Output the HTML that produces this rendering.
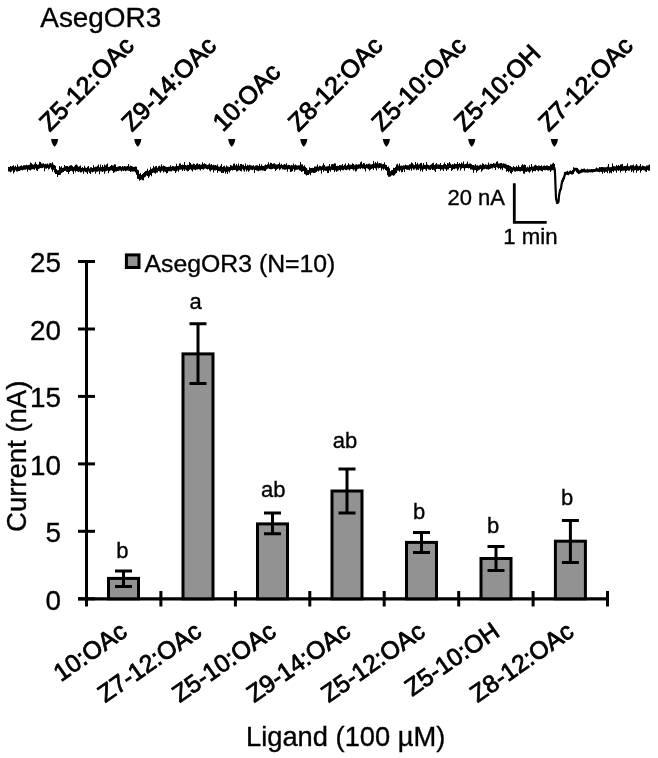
<!DOCTYPE html>
<html><head><meta charset="utf-8"><style>
html,body{margin:0;padding:0;background:#fff;}
svg{display:block;will-change:transform;}
text{font-family:"Liberation Sans", Arial, sans-serif;fill:#000;stroke:#000;stroke-width:0.35px;}
.b{font-weight:bold;}
.lt{stroke:#000;stroke-width:0.9px;}
.lb{stroke:#000;stroke-width:0.8px;}
</style></head><body>
<svg width="658" height="758" viewBox="0 0 658 758">
<text x="40.3" y="26.5" font-size="27.9" >AsegOR3</text>
<text transform="translate(49.8,132.6) rotate(-45)" font-size="25" class="lt">Z5-12:OAc</text>
<path d="M51.1,139.1 L58.1,139.1 Q57.8,144 54.6,146.8 Q51.4,144 51.1,139.1 Z" fill="#000"/>
<text transform="translate(132.0,132.6) rotate(-45)" font-size="25" class="lt">Z9-14:OAc</text>
<path d="M134.3,139.1 L141.3,139.1 Q141.0,144 137.8,146.8 Q134.6,144 134.3,139.1 Z" fill="#000"/>
<text transform="translate(222.9,132.6) rotate(-45)" font-size="25" class="lt">10:OAc</text>
<path d="M228.2,139.1 L235.2,139.1 Q234.9,144 231.7,146.8 Q228.5,144 228.2,139.1 Z" fill="#000"/>
<text transform="translate(298.5,132.6) rotate(-45)" font-size="25" class="lt">Z8-12:OAc</text>
<path d="M300.3,139.1 L307.3,139.1 Q307.0,144 303.8,146.8 Q300.6,144 300.3,139.1 Z" fill="#000"/>
<text transform="translate(382.1,132.6) rotate(-45)" font-size="25" class="lt">Z5-10:OAc</text>
<path d="M382.9,139.1 L389.9,139.1 Q389.6,144 386.4,146.8 Q383.2,144 382.9,139.1 Z" fill="#000"/>
<text transform="translate(464.4,132.6) rotate(-45)" font-size="25" class="lt">Z5-10:OH</text>
<path d="M468.2,139.1 L475.2,139.1 Q474.9,144 471.7,146.8 Q468.5,144 468.2,139.1 Z" fill="#000"/>
<text transform="translate(548.8,132.6) rotate(-45)" font-size="25" class="lt">Z7-12:OAc</text>
<path d="M550.9,139.1 L557.9,139.1 Q557.6,144 554.4,146.8 Q551.2,144 550.9,139.1 Z" fill="#000"/>
<path d="M8,166.9L9,166.9L9,167.1L10,167.1L10,166.1L11,166.1L11,166.4L12,166.4L12,166.0L13,166.0L13,165.2L14,165.2L14,166.8L15,166.8L15,165.8L16,165.8L16,167.1L17,167.1L17,164.5L18,164.5L18,166.6L19,166.6L19,166.5L20,166.5L20,165.7L21,165.7L21,165.4L22,165.4L22,166.0L23,166.0L23,165.2L24,165.2L24,165.3L25,165.3L25,165.2L26,165.2L26,164.8L27,164.8L27,165.3L28,165.3L28,165.1L29,165.1L29,164.7L30,164.7L30,162.5L31,162.5L31,163.2L32,163.2L32,164.2L33,164.2L33,164.8L34,164.8L34,163.8L35,163.8L35,162.0L36,162.0L36,164.1L37,164.1L37,164.8L38,164.8L38,164.4L39,164.4L39,161.7L40,161.7L40,161.9L41,161.9L41,163.4L42,163.4L42,163.5L43,163.5L43,163.2L44,163.2L44,164.2L45,164.2L45,163.7L46,163.7L46,164.3L47,164.3L47,163.6L48,163.6L48,164.4L49,164.4L49,163.3L50,163.3L50,163.1L51,163.1L51,163.4L52,163.4L52,162.3L53,162.3L53,164.5L54,164.5L54,165.0L55,165.0L55,166.0L56,166.0L56,169.2L57,169.2L57,170.2L58,170.2L58,169.9L59,169.9L59,166.1L60,166.1L60,167.2L61,167.2L61,166.2L62,166.2L62,167.9L63,167.9L63,167.4L64,167.4L64,165.0L65,165.0L65,166.3L66,166.3L66,166.0L67,166.0L67,165.9L68,165.9L68,166.8L69,166.8L69,165.8L70,165.8L70,165.2L71,165.2L71,165.2L72,165.2L72,166.1L73,166.1L73,166.9L74,166.9L74,166.2L75,166.2L75,164.8L76,164.8L76,164.5L77,164.5L77,165.6L78,165.6L78,166.7L79,166.7L79,166.2L80,166.2L80,165.5L81,165.5L81,167.8L82,167.8L82,167.1L83,167.1L83,168.0L84,168.0L84,165.8L85,165.8L85,167.4L86,167.4L86,168.1L87,168.1L87,166.7L88,166.7L88,165.9L89,165.9L89,168.4L90,168.4L90,167.3L91,167.3L91,167.3L92,167.3L92,168.0L93,168.0L93,165.3L94,165.3L94,167.2L95,167.2L95,166.8L96,166.8L96,166.7L97,166.7L97,165.7L98,165.7L98,164.4L99,164.4L99,167.2L100,167.2L100,164.5L101,164.5L101,166.9L102,166.9L102,165.1L103,165.1L103,166.8L104,166.8L104,164.6L105,164.6L105,165.5L106,165.5L106,164.5L107,164.5L107,163.4L108,163.4L108,167.0L109,167.0L109,166.7L110,166.7L110,165.9L111,165.9L111,165.1L112,165.1L112,165.4L113,165.4L113,165.5L114,165.5L114,164.2L115,164.2L115,164.6L116,164.6L116,167.0L117,167.0L117,166.7L118,166.7L118,166.4L119,166.4L119,166.0L120,166.0L120,165.9L121,165.9L121,167.1L122,167.1L122,166.1L123,166.1L123,166.7L124,166.7L124,166.0L125,166.0L125,166.2L126,166.2L126,166.4L127,166.4L127,165.9L128,165.9L128,164.0L129,164.0L129,166.4L130,166.4L130,165.5L131,165.5L131,165.9L132,165.9L132,166.5L133,166.5L133,167.0L134,167.0L134,166.8L135,166.8L135,166.5L136,166.5L136,166.8L137,166.8L137,169.4L138,169.4L138,170.3L139,170.3L139,174.0L140,174.0L140,173.0L141,173.0L141,175.0L142,175.0L142,174.0L143,174.0L143,172.9L144,172.9L144,171.9L145,171.9L145,170.9L146,170.9L146,170.8L147,170.8L147,168.8L148,168.8L148,170.8L149,170.8L149,169.9L150,169.9L150,167.3L151,167.3L151,169.1L152,169.1L152,168.2L153,168.2L153,165.8L154,165.8L154,167.3L155,167.3L155,166.3L156,166.3L156,165.9L157,165.9L157,167.8L158,167.8L158,166.2L159,166.2L159,165.7L160,165.7L160,166.6L161,166.6L161,164.3L162,164.3L162,166.3L163,166.3L163,165.5L164,165.5L164,166.0L165,166.0L165,166.6L166,166.6L166,166.9L167,166.9L167,167.1L168,167.1L168,166.8L169,166.8L169,166.8L170,166.8L170,165.2L171,165.2L171,166.8L172,166.8L172,165.9L173,165.9L173,166.2L174,166.2L174,166.4L175,166.4L175,166.2L176,166.2L176,163.7L177,163.7L177,165.9L178,165.9L178,165.8L179,165.8L179,163.6L180,163.6L180,163.6L181,163.6L181,164.9L182,164.9L182,164.4L183,164.4L183,165.1L184,165.1L184,162.1L185,162.1L185,165.0L186,165.0L186,165.4L187,165.4L187,164.7L188,164.7L188,164.9L189,164.9L189,162.1L190,162.1L190,162.9L191,162.9L191,164.6L192,164.6L192,164.4L193,164.4L193,163.5L194,163.5L194,163.9L195,163.9L195,164.9L196,164.9L196,163.8L197,163.8L197,163.3L198,163.3L198,164.5L199,164.5L199,164.1L200,164.1L200,164.8L201,164.8L201,164.5L202,164.5L202,162.2L203,162.2L203,164.0L204,164.0L204,163.2L205,163.2L205,164.1L206,164.1L206,164.5L207,164.5L207,165.1L208,165.1L208,164.5L209,164.5L209,163.3L210,163.3L210,164.7L211,164.7L211,164.0L212,164.0L212,165.2L213,165.2L213,164.7L214,164.7L214,165.3L215,165.3L215,164.9L216,164.9L216,165.4L217,165.4L217,164.6L218,164.6L218,166.5L219,166.5L219,166.7L220,166.7L220,165.7L221,165.7L221,164.0L222,164.0L222,166.9L223,166.9L223,166.3L224,166.3L224,165.7L225,165.7L225,167.3L226,167.3L226,165.5L227,165.5L227,166.4L228,166.4L228,166.8L229,166.8L229,166.9L230,166.9L230,165.0L231,165.0L231,165.6L232,165.6L232,165.9L233,165.9L233,163.7L234,163.7L234,163.5L235,163.5L235,165.6L236,165.6L236,164.0L237,164.0L237,165.5L238,165.5L238,163.6L239,163.6L239,165.8L240,165.8L240,164.1L241,164.1L241,164.0L242,164.0L242,164.8L243,164.8L243,164.8L244,164.8L244,166.1L245,166.1L245,163.5L246,163.5L246,166.0L247,166.0L247,164.7L248,164.7L248,165.5L249,165.5L249,164.8L250,164.8L250,165.2L251,165.2L251,165.4L252,165.4L252,165.8L253,165.8L253,165.2L254,165.2L254,166.3L255,166.3L255,165.5L256,165.5L256,165.3L257,165.3L257,165.2L258,165.2L258,166.0L259,166.0L259,163.8L260,163.8L260,165.9L261,165.9L261,164.3L262,164.3L262,165.8L263,165.8L263,165.9L264,165.9L264,165.4L265,165.4L265,164.6L266,164.6L266,164.9L267,164.9L267,164.3L268,164.3L268,162.2L269,162.2L269,164.5L270,164.5L270,162.7L271,162.7L271,163.0L272,163.0L272,164.1L273,164.1L273,163.5L274,163.5L274,163.2L275,163.2L275,164.3L276,164.3L276,164.5L277,164.5L277,164.6L278,164.6L278,164.1L279,164.1L279,162.6L280,162.6L280,164.8L281,164.8L281,163.7L282,163.7L282,165.0L283,165.0L283,164.8L284,164.8L284,164.0L285,164.0L285,164.5L286,164.5L286,163.2L287,163.2L287,165.3L288,165.3L288,164.7L289,164.7L289,165.0L290,165.0L290,165.5L291,165.5L291,164.9L292,164.9L292,165.6L293,165.6L293,163.4L294,163.4L294,165.2L295,165.2L295,164.6L296,164.6L296,165.3L297,165.3L297,165.4L298,165.4L298,165.2L299,165.2L299,165.3L300,165.3L300,162.1L301,162.1L301,164.6L302,164.6L302,164.3L303,164.3L303,166.3L304,166.3L304,165.3L305,165.3L305,166.9L306,166.9L306,168.0L307,168.0L307,169.7L308,169.7L308,170.0L309,170.0L309,167.2L310,167.2L310,167.9L311,167.9L311,167.9L312,167.9L312,167.8L313,167.8L313,167.9L314,167.9L314,166.6L315,166.6L315,166.4L316,166.4L316,166.4L317,166.4L317,164.5L318,164.5L318,166.8L319,166.8L319,165.7L320,165.7L320,165.9L321,165.9L321,166.6L322,166.6L322,165.6L323,165.6L323,163.2L324,163.2L324,164.9L325,164.9L325,166.4L326,166.4L326,166.5L327,166.5L327,166.3L328,166.3L328,166.0L329,166.0L329,164.0L330,164.0L330,166.6L331,166.6L331,164.2L332,164.2L332,164.0L333,164.0L333,164.3L334,164.3L334,163.2L335,163.2L335,163.5L336,163.5L336,165.9L337,165.9L337,165.7L338,165.7L338,166.1L339,166.1L339,164.9L340,164.9L340,165.3L341,165.3L341,165.3L342,165.3L342,164.1L343,164.1L343,165.8L344,165.8L344,164.8L345,164.8L345,163.4L346,163.4L346,165.7L347,165.7L347,165.0L348,165.0L348,163.3L349,163.3L349,164.4L350,164.4L350,164.8L351,164.8L351,164.7L352,164.7L352,163.3L353,163.3L353,163.9L354,163.9L354,165.2L355,165.2L355,164.5L356,164.5L356,164.2L357,164.2L357,164.7L358,164.7L358,164.3L359,164.3L359,164.2L360,164.2L360,162.2L361,162.2L361,161.4L362,161.4L362,164.3L363,164.3L363,163.1L364,163.1L364,163.2L365,163.2L365,164.8L366,164.8L366,163.9L367,163.9L367,164.2L368,164.2L368,163.7L369,163.7L369,163.6L370,163.6L370,164.6L371,164.6L371,164.6L372,164.6L372,164.0L373,164.0L373,161.1L374,161.1L374,163.5L375,163.5L375,162.1L376,162.1L376,163.2L377,163.2L377,161.5L378,161.5L378,163.4L379,163.4L379,162.9L380,162.9L380,163.2L381,163.2L381,163.4L382,163.4L382,164.2L383,164.2L383,163.9L384,163.9L384,162.3L385,162.3L385,164.7L386,164.7L386,165.1L387,165.1L387,167.1L388,167.1L388,166.4L389,166.4L389,168.2L390,168.2L390,171.2L391,171.2L391,170.3L392,170.3L392,170.0L393,170.0L393,167.7L394,167.7L394,168.0L395,168.0L395,167.1L396,167.1L396,164.5L397,164.5L397,163.7L398,163.7L398,165.6L399,165.6L399,163.4L400,163.4L400,165.7L401,165.7L401,165.4L402,165.4L402,165.8L403,165.8L403,165.3L404,165.3L404,165.5L405,165.5L405,164.6L406,164.6L406,165.2L407,165.2L407,165.2L408,165.2L408,165.2L409,165.2L409,164.2L410,164.2L410,164.2L411,164.2L411,162.5L412,162.5L412,162.9L413,162.9L413,164.5L414,164.5L414,165.2L415,165.2L415,162.0L416,162.0L416,164.3L417,164.3L417,162.7L418,162.7L418,164.4L419,164.4L419,164.2L420,164.2L420,163.1L421,163.1L421,163.0L422,163.0L422,165.2L423,165.2L423,163.0L424,163.0L424,164.7L425,164.7L425,165.1L426,165.1L426,161.9L427,161.9L427,164.4L428,164.4L428,165.1L429,165.1L429,165.4L430,165.4L430,164.7L431,164.7L431,164.3L432,164.3L432,163.3L433,163.3L433,162.7L434,162.7L434,164.9L435,164.9L435,164.2L436,164.2L436,163.1L437,163.1L437,164.4L438,164.4L438,164.5L439,164.5L439,164.4L440,164.4L440,163.1L441,163.1L441,164.9L442,164.9L442,164.9L443,164.9L443,164.2L444,164.2L444,162.6L445,162.6L445,164.1L446,164.1L446,164.9L447,164.9L447,163.0L448,163.0L448,163.6L449,163.6L449,161.9L450,161.9L450,163.5L451,163.5L451,164.8L452,164.8L452,164.0L453,164.0L453,164.4L454,164.4L454,163.2L455,163.2L455,163.9L456,163.9L456,163.9L457,163.9L457,161.9L458,161.9L458,164.0L459,164.0L459,163.1L460,163.1L460,164.1L461,164.1L461,162.5L462,162.5L462,163.4L463,163.4L463,161.4L464,161.4L464,164.3L465,164.3L465,163.9L466,163.9L466,163.6L467,163.6L467,161.5L468,161.5L468,164.1L469,164.1L469,163.5L470,163.5L470,163.6L471,163.6L471,164.3L472,164.3L472,165.1L473,165.1L473,164.9L474,164.9L474,165.6L475,165.6L475,164.1L476,164.1L476,165.5L477,165.5L477,165.2L478,165.2L478,165.7L479,165.7L479,165.2L480,165.2L480,164.4L481,164.4L481,165.2L482,165.2L482,163.2L483,163.2L483,163.7L484,163.7L484,164.8L485,164.8L485,164.2L486,164.2L486,164.8L487,164.8L487,164.7L488,164.7L488,162.4L489,162.4L489,164.4L490,164.4L490,163.8L491,163.8L491,163.7L492,163.7L492,164.1L493,164.1L493,163.1L494,163.1L494,163.4L495,163.4L495,163.5L496,163.5L496,161.8L497,161.8L497,161.3L498,161.3L498,163.6L499,163.6L499,163.5L500,163.5L500,162.9L501,162.9L501,163.1L502,163.1L502,163.7L503,163.7L503,163.3L504,163.3L504,163.8L505,163.8L505,163.7L506,163.7L506,164.4L507,164.4L507,164.9L508,164.9L508,164.9L509,164.9L509,165.7L510,165.7L510,165.9L511,165.9L511,167.0L512,167.0L512,167.4L513,167.4L513,166.1L514,166.1L514,167.0L515,167.0L515,167.2L516,167.2L516,166.1L517,166.1L517,166.9L518,166.9L518,165.1L519,165.1L519,166.7L520,166.7L520,167.0L521,167.0L521,165.6L522,165.6L522,164.2L523,164.2L523,165.1L524,165.1L524,164.4L525,164.4L525,165.0L526,165.0L526,167.4L527,167.4L527,166.8L528,166.8L528,167.4L529,167.4L529,165.2L530,165.2L530,167.0L531,167.0L531,163.9L532,163.9L532,166.5L533,166.5L533,166.6L534,166.6L534,165.6L535,165.6L535,164.8L536,164.8L536,165.6L537,165.6L537,165.9L538,165.9L538,165.4L539,165.4L539,165.8L540,165.8L540,166.0L541,166.0L541,165.2L542,165.2L542,166.4L543,166.4L543,165.7L544,165.7L544,165.4L545,165.4L545,165.9L546,165.9L546,165.6L547,165.6L547,165.5L548,165.5L548,166.0L549,166.0L549,165.9L550,165.9L550,164.3L551,164.3L551,164.4L552,164.4L552,163.6L553,163.6L553,162.8L554,162.8L554,164.0L555,164.0L555,169.2L556,169.2L556,196.3L557,196.3L557,200.8L558,200.8L558,194.4L559,194.4L559,189.3L560,189.3L560,187.1L561,187.1L561,180.2L562,180.2L562,177.7L563,177.7L563,176.5L564,176.5L564,172.1L565,172.1L565,171.7L566,171.7L566,171.6L567,171.6L567,170.8L568,170.8L568,171.7L569,171.7L569,170.8L570,170.8L570,170.5L571,170.5L571,170.9L572,170.9L572,170.0L573,170.0L573,167.2L574,167.2L574,167.8L575,167.8L575,167.7L576,167.7L576,167.7L577,167.7L577,168.0L578,168.0L578,169.2L579,169.2L579,170.3L580,170.3L580,169.8L581,169.8L581,168.7L582,168.7L582,169.0L583,169.0L583,168.7L584,168.7L584,168.6L585,168.6L585,169.5L586,169.5L586,169.4L587,169.4L587,168.7L588,168.7L588,169.4L589,169.4L589,169.3L590,169.3L590,169.4L591,169.4L591,169.1L592,169.1L592,169.3L593,169.3L593,169.2L594,169.2L594,168.9L595,168.9L595,168.6L596,168.6L596,167.4L597,167.4L597,168.3L598,168.3L598,168.6L599,168.6L599,166.9L600,166.9L600,167.3L601,167.3L601,167.1L602,167.1L602,167.1L603,167.1L603,167.3L604,167.3L604,167.2L605,167.2L605,167.2L606,167.2L606,167.3L607,167.3L607,166.4L608,166.4L608,163.9L609,163.9L609,167.3L610,167.3L610,167.2L611,167.2L611,167.1L612,167.1L612,163.4L613,163.4L613,165.9L614,165.9L614,166.2L615,166.2L615,166.4L616,166.4L616,165.1L617,165.1L617,165.9L618,165.9L618,165.0L619,165.0L619,165.8L620,165.8L620,164.4L621,164.4L621,164.3L622,164.3L622,163.9L623,163.9L623,166.3L624,166.3L624,165.9L625,165.9L625,166.0L626,166.0L626,165.6L627,165.6L627,163.5L628,163.5L628,166.2L629,166.2L629,166.3L630,166.3L630,165.2L631,165.2L631,165.3L632,165.3L632,165.3L633,165.3L633,164.5L634,164.5L634,166.2L635,166.2L635,165.4L636,165.4L636,163.9L637,163.9L637,165.5L638,165.5L638,166.3L639,166.3L639,165.7L640,165.7L640,164.1L641,164.1L641,166.6L642,166.6L642,165.6L643,165.6L643,165.9L644,165.9L644,166.2L645,166.2L645,166.4L646,166.4L646,165.7L647,165.7L647,165.6L648,165.6L648,165.2L649,165.2L649,164.5L650,164.5L650,170.7L649,170.7L649,170.7L648,170.7L648,170.0L647,170.0L647,172.0L646,172.0L646,171.6L645,171.6L645,170.6L644,170.6L644,170.3L643,170.3L643,170.0L642,170.0L642,171.0L641,171.0L641,172.8L640,172.8L640,170.1L639,170.1L639,170.7L638,170.7L638,170.8L637,170.8L637,172.7L636,172.7L636,169.9L635,169.9L635,170.6L634,170.6L634,172.6L633,172.6L633,170.7L632,170.7L632,171.9L631,171.9L631,169.6L630,169.6L630,170.7L629,170.7L629,170.7L628,170.7L628,170.2L627,170.2L627,170.9L626,170.9L626,172.7L625,172.7L625,170.4L624,170.4L624,170.8L623,170.8L623,170.8L622,170.8L622,171.0L621,171.0L621,172.4L620,172.4L620,170.2L619,170.2L619,170.9L618,170.9L618,170.3L617,170.3L617,172.7L616,172.7L616,170.8L615,170.8L615,170.6L614,170.6L614,172.0L613,172.0L613,170.9L612,170.9L612,173.2L611,173.2L611,172.4L610,172.4L610,173.3L609,173.3L609,170.8L608,170.8L608,173.3L607,173.3L607,171.8L606,171.8L606,171.7L605,171.7L605,172.9L604,172.9L604,171.8L603,171.8L603,173.8L602,173.8L602,172.0L601,172.0L601,171.8L600,171.8L600,172.3L599,172.3L599,171.7L598,171.7L598,171.8L597,171.8L597,171.5L596,171.5L596,171.7L595,171.7L595,172.0L594,172.0L594,172.3L593,172.3L593,172.4L592,172.4L592,172.2L591,172.2L591,172.5L590,172.5L590,172.3L589,172.3L589,172.4L588,172.4L588,172.8L587,172.8L587,172.4L586,172.4L586,172.5L585,172.5L585,172.4L584,172.4L584,172.3L583,172.3L583,172.5L582,172.5L582,172.7L581,172.7L581,173.2L580,173.2L580,173.8L579,173.8L579,174.1L578,174.1L578,172.9L577,172.9L577,172.3L576,172.3L576,170.8L575,170.8L575,171.7L574,171.7L574,174.1L573,174.1L573,174.6L572,174.6L572,174.4L571,174.4L571,173.9L570,173.9L570,174.3L569,174.3L569,175.2L568,175.2L568,175.0L567,175.0L567,174.8L566,174.8L566,175.5L565,175.5L565,179.1L564,179.1L564,181.7L563,181.7L563,183.8L562,183.8L562,189.7L561,189.7L561,192.2L560,192.2L560,197.7L559,197.7L559,203.6L558,203.6L558,204.1L557,204.1L557,203.8L556,203.8L556,199.6L555,199.6L555,174.8L554,174.8L554,170.2L553,170.2L553,169.9L552,169.9L552,170.5L551,170.5L551,172.0L550,172.0L550,170.3L549,170.3L549,170.4L548,170.4L548,170.4L547,170.4L547,170.0L546,170.0L546,170.3L545,170.3L545,170.2L544,170.2L544,170.1L543,170.1L543,171.5L542,171.5L542,171.1L541,171.1L541,170.4L540,170.4L540,170.3L539,170.3L539,171.4L538,171.4L538,170.4L537,170.4L537,170.0L536,170.0L536,171.2L535,171.2L535,171.1L534,171.1L534,171.1L533,171.1L533,172.4L532,172.4L532,170.3L531,170.3L531,171.4L530,171.4L530,172.8L529,172.8L529,171.8L528,171.8L528,171.3L527,171.3L527,171.9L526,171.9L526,171.8L525,171.8L525,173.7L524,173.7L524,173.6L523,173.6L523,171.1L522,171.1L522,171.0L521,171.0L521,171.4L520,171.4L520,171.2L519,171.2L519,170.9L518,170.9L518,171.3L517,171.3L517,171.1L516,171.1L516,171.7L515,171.7L515,171.5L514,171.5L514,170.6L513,170.6L513,171.9L512,171.9L512,173.8L511,173.8L511,172.9L510,172.9L510,171.2L509,171.2L509,172.3L508,172.3L508,171.0L507,171.0L507,171.8L506,171.8L506,168.8L505,168.8L505,168.2L504,168.2L504,167.7L503,167.7L503,170.2L502,170.2L502,168.4L501,168.4L501,169.5L500,169.5L500,167.9L499,167.9L499,168.8L498,168.8L498,167.7L497,167.7L497,167.3L496,167.3L496,170.1L495,170.1L495,167.9L494,167.9L494,167.6L493,167.6L493,168.6L492,168.6L492,168.2L491,168.2L491,168.8L490,168.8L490,168.9L489,168.9L489,169.8L488,169.8L488,169.2L487,169.2L487,169.3L486,169.3L486,168.7L485,168.7L485,169.3L484,169.3L484,169.3L483,169.3L483,170.5L482,170.5L482,171.7L481,171.7L481,168.9L480,168.9L480,169.8L479,169.8L479,170.2L478,170.2L478,171.1L477,171.1L477,172.4L476,172.4L476,170.0L475,170.0L475,170.3L474,170.3L474,172.8L473,172.8L473,169.8L472,169.8L472,169.6L471,169.6L471,169.5L470,169.5L470,167.9L469,167.9L469,168.6L468,168.6L468,168.1L467,168.1L467,168.1L466,168.1L466,168.3L465,168.3L465,170.8L464,170.8L464,168.3L463,168.3L463,167.9L462,167.9L462,168.8L461,168.8L461,170.6L460,170.6L460,167.6L459,167.6L459,169.5L458,169.5L458,170.8L457,170.8L457,168.4L456,168.4L456,168.4L455,168.4L455,169.2L454,169.2L454,168.9L453,168.9L453,170.0L452,170.0L452,170.9L451,170.9L451,168.0L450,168.0L450,168.1L449,168.1L449,169.4L448,169.4L448,169.6L447,169.6L447,170.9L446,170.9L446,169.3L445,169.3L445,168.7L444,168.7L444,171.0L443,171.0L443,169.4L442,169.4L442,169.4L441,169.4L441,170.8L440,170.8L440,168.9L439,168.9L439,168.9L438,168.9L438,168.8L437,168.8L437,169.0L436,169.0L436,172.1L435,172.1L435,170.7L434,170.7L434,169.7L433,169.7L433,169.9L432,169.9L432,168.7L431,168.7L431,169.9L430,169.9L430,169.8L429,169.8L429,169.5L428,169.5L428,168.8L427,168.8L427,171.1L426,171.1L426,169.5L425,169.5L425,169.1L424,169.1L424,169.6L423,169.6L423,171.7L422,171.7L422,169.7L421,169.7L421,171.2L420,171.2L420,168.6L419,168.6L419,170.0L418,170.0L418,169.5L417,169.5L417,170.2L416,170.2L416,168.6L415,168.6L415,169.6L414,169.6L414,169.7L413,169.7L413,168.6L412,168.6L412,170.8L411,170.8L411,168.7L410,168.7L410,170.2L409,170.2L409,169.7L408,169.7L408,169.7L407,169.7L407,169.7L406,169.7L406,169.1L405,169.1L405,171.9L404,171.9L404,169.8L403,169.8L403,172.1L402,172.1L402,172.3L401,172.3L401,170.2L400,170.2L400,171.8L399,171.8L399,170.4L398,170.4L398,170.7L397,170.7L397,173.0L396,173.0L396,173.7L395,173.7L395,175.2L394,175.2L394,175.7L393,175.7L393,175.2L392,175.2L392,175.5L391,175.5L391,176.4L390,176.4L390,176.7L389,176.7L389,176.7L388,176.7L388,175.3L387,175.3L387,170.6L386,170.6L386,170.2L385,170.2L385,168.7L384,168.7L384,169.8L383,169.8L383,168.8L382,168.8L382,170.6L381,170.6L381,167.8L380,167.8L380,168.0L379,168.0L379,168.5L378,168.5L378,167.7L377,167.7L377,170.6L376,170.6L376,168.5L375,168.5L375,167.9L374,167.9L374,169.9L373,169.9L373,168.4L372,168.4L372,169.1L371,169.1L371,169.8L370,169.8L370,170.8L369,170.8L369,169.3L368,169.3L368,168.6L367,168.6L367,168.3L366,168.3L366,171.4L365,171.4L365,169.2L364,169.2L364,168.5L363,168.5L363,168.7L362,168.7L362,168.0L361,168.0L361,168.9L360,168.9L360,168.6L359,168.6L359,168.8L358,168.8L358,169.2L357,169.2L357,170.9L356,170.9L356,171.5L355,171.5L355,169.6L354,169.6L354,170.4L353,170.4L353,169.2L352,169.2L352,169.1L351,169.1L351,169.3L350,169.3L350,170.6L349,170.6L349,169.5L348,169.5L348,169.5L347,169.5L347,170.2L346,170.2L346,170.1L345,170.1L345,169.3L344,169.3L344,170.3L343,170.3L343,170.3L342,170.3L342,169.8L341,169.8L341,171.5L340,171.5L340,170.1L339,170.1L339,170.6L338,170.6L338,171.2L337,171.2L337,171.7L336,171.7L336,170.5L335,170.5L335,172.0L334,172.0L334,170.3L333,170.3L333,169.9L332,169.9L332,169.8L331,169.8L331,171.7L330,171.7L330,170.4L329,170.4L329,173.1L328,173.1L328,173.1L327,173.1L327,171.0L326,171.0L326,170.8L325,170.8L325,170.5L324,170.5L324,171.7L323,171.7L323,170.1L322,170.1L322,173.5L321,173.5L321,170.4L320,170.4L320,170.4L319,170.4L319,171.5L318,171.5L318,170.7L317,170.7L317,171.9L316,171.9L316,172.6L315,172.6L315,173.1L314,173.1L314,173.0L313,173.0L313,172.5L312,172.5L312,172.8L311,172.8L311,175.3L310,175.3L310,173.7L309,173.7L309,174.9L308,174.9L308,175.0L307,175.0L307,175.6L306,175.6L306,174.6L305,174.6L305,173.9L304,173.9L304,170.9L303,170.9L303,171.6L302,171.6L302,172.0L301,172.0L301,170.7L300,170.7L300,170.5L299,170.5L299,169.6L298,169.6L298,169.8L297,169.8L297,169.7L296,169.7L296,170.2L295,170.2L295,171.8L294,171.8L294,169.3L293,169.3L293,171.1L292,171.1L292,171.8L291,171.8L291,171.9L290,171.9L290,169.5L289,169.5L289,169.1L288,169.1L288,171.7L287,171.7L287,169.3L286,169.3L286,169.8L285,169.8L285,169.7L284,169.7L284,169.2L283,169.2L283,169.4L282,169.4L282,168.2L281,168.2L281,169.2L280,169.2L280,170.2L279,170.2L279,168.5L278,168.5L278,169.0L277,169.0L277,169.8L276,169.8L276,171.1L275,171.1L275,169.1L274,169.1L274,168.6L273,168.6L273,169.1L272,169.1L272,169.2L271,169.2L271,169.2L270,169.2L270,169.0L269,169.0L269,168.5L268,168.5L268,168.8L267,168.8L267,169.4L266,169.4L266,171.1L265,171.1L265,171.1L264,171.1L264,170.5L263,170.5L263,170.4L262,170.4L262,170.3L261,170.3L261,170.4L260,170.4L260,170.5L259,170.5L259,171.2L258,171.2L258,170.8L257,170.8L257,170.4L256,170.4L256,169.9L255,169.9L255,172.9L254,172.9L254,169.6L253,169.6L253,170.2L252,170.2L252,169.8L251,169.8L251,169.6L250,169.6L250,170.7L249,170.7L249,171.8L248,171.8L248,170.3L247,170.3L247,171.4L246,171.4L246,169.4L245,169.4L245,171.8L244,171.8L244,170.5L243,170.5L243,169.3L242,169.3L242,171.4L241,171.4L241,171.0L240,171.0L240,170.3L239,170.3L239,170.4L238,170.4L238,171.2L237,171.2L237,171.6L236,171.6L236,170.1L235,170.1L235,169.9L234,169.9L234,170.1L233,170.1L233,170.4L232,170.4L232,170.1L231,170.1L231,170.8L230,170.8L230,172.6L229,172.6L229,171.5L228,171.5L228,173.9L227,173.9L227,172.1L226,172.1L226,173.8L225,173.8L225,171.4L224,171.4L224,173.1L223,173.1L223,172.8L222,172.8L222,173.1L221,173.1L221,171.5L220,171.5L220,171.3L219,171.3L219,171.0L218,171.0L218,172.8L217,172.8L217,169.9L216,169.9L216,170.4L215,170.4L215,170.2L214,170.2L214,172.4L213,172.4L213,169.7L212,169.7L212,169.9L211,169.9L211,171.5L210,171.5L210,170.5L209,170.5L209,168.9L208,168.9L208,169.5L207,169.5L207,169.0L206,169.0L206,168.5L205,168.5L205,168.8L204,168.8L204,169.7L203,169.7L203,169.2L202,169.2L202,169.0L201,169.0L201,170.6L200,170.6L200,169.5L199,169.5L199,168.9L198,168.9L198,169.5L197,169.5L197,169.5L196,169.5L196,170.2L195,170.2L195,169.7L194,169.7L194,169.4L193,169.4L193,171.4L192,171.4L192,170.3L191,170.3L191,169.2L190,169.2L190,169.8L189,169.8L189,171.1L188,171.1L188,171.4L187,171.4L187,170.6L186,170.6L186,169.4L185,169.4L185,171.1L184,171.1L184,169.5L183,169.5L183,171.1L182,171.1L182,169.4L181,169.4L181,169.8L180,169.8L180,169.8L179,169.8L179,171.8L178,171.8L178,170.4L177,170.4L177,171.4L176,171.4L176,172.9L175,172.9L175,170.9L174,170.9L174,170.8L173,170.8L173,170.4L172,170.4L172,171.4L171,171.4L171,171.3L170,171.3L170,171.2L169,171.2L169,171.3L168,171.3L168,172.9L167,172.9L167,173.6L166,173.6L166,172.0L165,172.0L165,171.4L164,171.4L164,172.6L163,172.6L163,170.7L162,170.7L162,171.3L161,171.3L161,172.8L160,172.8L160,171.5L159,171.5L159,170.9L158,170.9L158,172.5L157,172.5L157,172.4L156,172.4L156,173.8L155,173.8L155,173.0L154,173.0L154,172.4L153,172.4L153,172.9L152,172.9L152,176.3L151,176.3L151,175.0L150,175.0L150,176.5L149,176.5L149,177.9L148,177.9L148,175.9L147,175.9L147,175.6L146,175.6L146,176.7L145,176.7L145,177.6L144,177.6L144,180.2L143,180.2L143,180.2L142,180.2L142,179.6L141,179.6L141,180.0L140,180.0L140,180.7L139,180.7L139,179.0L138,179.0L138,178.7L137,178.7L137,174.8L136,174.8L136,172.4L135,172.4L135,171.4L134,171.4L134,171.6L133,171.6L133,171.6L132,171.6L132,171.5L131,171.5L131,172.0L130,172.0L130,170.9L129,170.9L129,170.8L128,170.8L128,170.4L127,170.4L127,170.8L126,170.8L126,171.2L125,171.2L125,170.5L124,170.5L124,171.1L123,171.1L123,170.5L122,170.5L122,171.6L121,171.6L121,170.4L120,170.4L120,170.4L119,170.4L119,170.9L118,170.9L118,171.1L117,171.1L117,171.4L116,171.4L116,171.5L115,171.5L115,172.3L114,172.3L114,173.1L113,173.1L113,171.1L112,171.1L112,170.3L111,170.3L111,170.4L110,170.4L110,171.2L109,171.2L109,173.3L108,173.3L108,170.5L107,170.5L107,171.0L106,171.0L106,171.6L105,171.6L105,173.7L104,173.7L104,171.2L103,171.2L103,172.0L102,172.0L102,171.4L101,171.4L101,171.3L100,171.3L100,174.3L99,174.3L99,171.3L98,171.3L98,171.8L97,171.8L97,171.8L96,171.8L96,173.7L95,173.7L95,171.6L94,171.6L94,171.8L93,171.8L93,172.4L92,172.4L92,171.8L91,171.8L91,173.9L90,173.9L90,172.9L89,172.9L89,171.6L88,171.6L88,174.1L87,174.1L87,172.5L86,172.5L86,171.9L85,171.9L85,171.5L84,171.5L84,173.7L83,173.7L83,171.6L82,171.6L82,172.2L81,172.2L81,172.4L80,172.4L80,171.4L79,171.4L79,172.1L78,172.1L78,171.4L77,171.4L77,170.9L76,170.9L76,172.2L75,172.2L75,170.7L74,170.7L74,173.9L73,173.9L73,171.4L72,171.4L72,170.8L71,170.8L71,170.9L70,170.9L70,172.1L69,172.1L69,173.9L68,173.9L68,172.0L67,172.0L67,171.8L66,171.8L66,170.8L65,170.8L65,170.9L64,170.9L64,172.1L63,172.1L63,172.6L62,172.6L62,173.0L61,173.0L61,174.7L60,174.7L60,175.1L59,175.1L59,175.1L58,175.1L58,177.0L57,177.0L57,173.9L56,173.9L56,174.1L55,174.1L55,172.6L54,172.6L54,169.7L53,169.7L53,171.7L52,171.7L52,169.4L51,169.4L51,167.5L50,167.5L50,168.7L49,168.7L49,169.6L48,169.6L48,168.0L47,168.0L47,168.7L46,168.7L46,168.5L45,168.5L45,171.2L44,171.2L44,167.6L43,167.6L43,167.9L42,167.9L42,168.3L41,168.3L41,167.9L40,167.9L40,168.6L39,168.6L39,168.9L38,168.9L38,170.9L37,170.9L37,170.2L36,170.2L36,168.5L35,168.5L35,169.8L34,169.8L34,169.3L33,169.3L33,169.2L32,169.2L32,169.6L31,169.6L31,170.6L30,170.6L30,170.1L29,170.1L29,169.7L28,169.7L28,171.8L27,171.8L27,169.3L26,169.3L26,169.7L25,169.7L25,169.8L24,169.8L24,169.7L23,169.7L23,170.5L22,170.5L22,169.9L21,169.9L21,170.2L20,170.2L20,170.9L19,170.9L19,171.0L18,171.0L18,171.5L17,171.5L17,171.5L16,171.5L16,170.3L15,170.3L15,172.1L14,172.1L14,173.5L13,173.5L13,170.5L12,170.5L12,171.4L11,171.4L11,172.2L10,172.2L10,171.6L9,171.6L9,171.4L8,171.4Z" fill="#000"/>
<path d="M8.00,169.00L8.50,168.98L9.00,168.96L9.50,168.94L10.00,168.92L10.50,168.90L11.00,168.88L11.50,168.85L12.00,168.83L12.50,168.81L13.00,168.79L13.50,168.77L14.00,168.75L14.50,168.73L15.00,168.71L15.50,168.69L16.00,168.67L16.50,168.65L17.00,168.62L17.50,168.60L18.00,168.58L18.50,168.56L19.00,168.54L19.50,168.52L20.00,168.50L20.50,168.44L21.00,168.38L21.50,168.32L22.00,168.26L22.50,168.20L23.00,168.14L23.50,168.08L24.00,168.02L24.50,167.96L25.00,167.90L25.50,167.84L26.00,167.78L26.50,167.72L27.00,167.66L27.50,167.60L28.00,167.54L28.50,167.48L29.00,167.42L29.50,167.36L30.00,167.30L30.50,167.24L31.00,167.17L31.50,167.11L32.00,167.04L32.50,166.98L33.00,166.91L33.50,166.84L34.00,166.78L34.50,166.72L35.00,166.65L35.50,166.59L36.00,166.52L36.50,166.46L37.00,166.39L37.50,166.32L38.00,166.26L38.50,166.19L39.00,166.13L39.50,166.06L40.00,166.00L40.50,166.00L41.00,166.00L41.50,166.00L42.00,166.00L42.50,166.00L43.00,166.00L43.50,166.00L44.00,166.00L44.50,166.00L45.00,166.00L45.50,166.00L46.00,166.00L46.50,166.00L47.00,166.00L47.50,166.00L48.00,166.00L48.50,166.00L49.00,166.00L49.50,166.00L50.00,166.00L50.50,166.00L51.00,166.00L51.50,166.00L52.00,166.00L52.50,166.38L53.00,166.75L53.50,167.12L54.00,167.50L54.50,168.62L55.00,169.75L55.50,170.88L56.00,172.00L56.50,172.12L57.00,172.25L57.50,172.38L58.00,172.50L58.50,172.08L59.00,171.67L59.50,171.25L60.00,170.83L60.50,170.42L61.00,170.00L61.50,169.88L62.00,169.75L62.50,169.62L63.00,169.50L63.50,169.38L64.00,169.25L64.50,169.12L65.00,169.00L65.50,168.95L66.00,168.90L66.50,168.85L67.00,168.80L67.50,168.75L68.00,168.70L68.50,168.65L69.00,168.60L69.50,168.55L70.00,168.50L70.50,168.55L71.00,168.60L71.50,168.65L72.00,168.70L72.50,168.75L73.00,168.80L73.50,168.85L74.00,168.90L74.50,168.95L75.00,169.00L75.50,169.05L76.00,169.10L76.50,169.15L77.00,169.20L77.50,169.25L78.00,169.30L78.50,169.35L79.00,169.40L79.50,169.45L80.00,169.50L80.50,169.53L81.00,169.55L81.50,169.57L82.00,169.60L82.50,169.62L83.00,169.65L83.50,169.68L84.00,169.70L84.50,169.72L85.00,169.75L85.50,169.78L86.00,169.80L86.50,169.82L87.00,169.85L87.50,169.88L88.00,169.90L88.50,169.93L89.00,169.95L89.50,169.97L90.00,170.00L90.50,169.97L91.00,169.93L91.50,169.90L92.00,169.86L92.50,169.82L93.00,169.79L93.50,169.75L94.00,169.72L94.50,169.69L95.00,169.65L95.50,169.62L96.00,169.58L96.50,169.55L97.00,169.51L97.50,169.48L98.00,169.44L98.50,169.41L99.00,169.37L99.50,169.34L100.00,169.30L100.50,169.26L101.00,169.22L101.50,169.18L102.00,169.14L102.50,169.10L103.00,169.06L103.50,169.02L104.00,168.98L104.50,168.94L105.00,168.90L105.50,168.86L106.00,168.82L106.50,168.78L107.00,168.74L107.50,168.70L108.00,168.66L108.50,168.62L109.00,168.58L109.50,168.54L110.00,168.50L110.50,168.51L111.00,168.53L111.50,168.55L112.00,168.56L112.50,168.57L113.00,168.59L113.50,168.61L114.00,168.62L114.50,168.63L115.00,168.65L115.50,168.67L116.00,168.68L116.50,168.69L117.00,168.71L117.50,168.73L118.00,168.74L118.50,168.75L119.00,168.77L119.50,168.79L120.00,168.80L120.50,168.78L121.00,168.75L121.50,168.73L122.00,168.70L122.50,168.68L123.00,168.65L123.50,168.62L124.00,168.60L124.50,168.58L125.00,168.55L125.50,168.53L126.00,168.50L126.50,168.48L127.00,168.45L127.50,168.43L128.00,168.40L128.50,168.38L129.00,168.35L129.50,168.33L130.00,168.30L130.50,168.37L131.00,168.44L131.50,168.51L132.00,168.58L132.50,168.65L133.00,168.72L133.50,168.79L134.00,168.86L134.50,168.93L135.00,169.00L135.50,169.75L136.00,170.50L136.50,171.25L137.00,172.00L137.50,173.38L138.00,174.75L138.50,176.12L139.00,177.50L139.50,177.58L140.00,177.67L140.50,177.75L141.00,177.83L141.50,177.92L142.00,178.00L142.50,177.33L143.00,176.67L143.50,176.00L144.00,175.33L144.50,174.67L145.00,174.00L145.50,173.79L146.00,173.58L146.50,173.37L147.00,173.16L147.50,172.95L148.00,172.74L148.50,172.53L149.00,172.32L149.50,172.11L150.00,171.90L150.50,171.73L151.00,171.56L151.50,171.39L152.00,171.22L152.50,171.05L153.00,170.88L153.50,170.71L154.00,170.54L154.50,170.37L155.00,170.20L155.50,170.06L156.00,169.92L156.50,169.78L157.00,169.64L157.50,169.50L158.00,169.36L158.50,169.22L159.00,169.08L159.50,168.94L160.00,168.80L160.50,168.80L161.00,168.79L161.50,168.78L162.00,168.78L162.50,168.78L163.00,168.77L163.50,168.77L164.00,168.76L164.50,168.75L165.00,168.75L165.50,168.75L166.00,168.74L166.50,168.73L167.00,168.73L167.50,168.72L168.00,168.72L168.50,168.72L169.00,168.71L169.50,168.70L170.00,168.70L170.50,168.63L171.00,168.57L171.50,168.50L172.00,168.44L172.50,168.38L173.00,168.31L173.50,168.25L174.00,168.18L174.50,168.12L175.00,168.05L175.50,167.98L176.00,167.92L176.50,167.85L177.00,167.79L177.50,167.72L178.00,167.66L178.50,167.59L179.00,167.53L179.50,167.47L180.00,167.40L180.50,167.37L181.00,167.33L181.50,167.30L182.00,167.26L182.50,167.22L183.00,167.19L183.50,167.16L184.00,167.12L184.50,167.09L185.00,167.05L185.50,167.01L186.00,166.98L186.50,166.94L187.00,166.91L187.50,166.88L188.00,166.84L188.50,166.80L189.00,166.77L189.50,166.73L190.00,166.70L190.50,166.70L191.00,166.70L191.50,166.70L192.00,166.70L192.50,166.70L193.00,166.70L193.50,166.70L194.00,166.70L194.50,166.70L195.00,166.70L195.50,166.70L196.00,166.70L196.50,166.70L197.00,166.70L197.50,166.70L198.00,166.70L198.50,166.70L199.00,166.70L199.50,166.70L200.00,166.70L200.50,166.72L201.00,166.75L201.50,166.77L202.00,166.80L202.50,166.82L203.00,166.85L203.50,166.88L204.00,166.90L204.50,166.92L205.00,166.95L205.50,166.97L206.00,167.00L206.50,167.02L207.00,167.05L207.50,167.07L208.00,167.10L208.50,167.12L209.00,167.15L209.50,167.17L210.00,167.20L210.50,167.26L211.00,167.33L211.50,167.39L212.00,167.46L212.50,167.52L213.00,167.59L213.50,167.66L214.00,167.72L214.50,167.78L215.00,167.85L215.50,167.91L216.00,167.98L216.50,168.04L217.00,168.11L217.50,168.18L218.00,168.24L218.50,168.31L219.00,168.37L219.50,168.44L220.00,168.50L220.50,168.62L221.00,168.74L221.50,168.86L222.00,168.98L222.50,169.10L223.00,169.22L223.50,169.34L224.00,169.46L224.50,169.58L225.00,169.70L225.50,169.58L226.00,169.46L226.50,169.34L227.00,169.22L227.50,169.10L228.00,168.98L228.50,168.86L229.00,168.74L229.50,168.62L230.00,168.50L230.50,168.45L231.00,168.40L231.50,168.35L232.00,168.30L232.50,168.25L233.00,168.20L233.50,168.15L234.00,168.10L234.50,168.05L235.00,168.00L235.50,167.95L236.00,167.90L236.50,167.85L237.00,167.80L237.50,167.75L238.00,167.70L238.50,167.65L239.00,167.60L239.50,167.55L240.00,167.50L240.50,167.53L241.00,167.56L241.50,167.59L242.00,167.62L242.50,167.65L243.00,167.68L243.50,167.71L244.00,167.74L244.50,167.77L245.00,167.80L245.50,167.83L246.00,167.86L246.50,167.89L247.00,167.92L247.50,167.95L248.00,167.98L248.50,168.01L249.00,168.04L249.50,168.07L250.00,168.10L250.50,168.09L251.00,168.09L251.50,168.09L252.00,168.08L252.50,168.07L253.00,168.07L253.50,168.06L254.00,168.06L254.50,168.06L255.00,168.05L255.50,168.04L256.00,168.04L256.50,168.03L257.00,168.03L257.50,168.03L258.00,168.02L258.50,168.01L259.00,168.01L259.50,168.00L260.00,168.00L260.50,167.94L261.00,167.87L261.50,167.81L262.00,167.74L262.50,167.68L263.00,167.61L263.50,167.54L264.00,167.48L264.50,167.41L265.00,167.35L265.50,167.28L266.00,167.22L266.50,167.16L267.00,167.09L267.50,167.02L268.00,166.96L268.50,166.89L269.00,166.83L269.50,166.76L270.00,166.70L270.50,166.69L271.00,166.67L271.50,166.66L272.00,166.64L272.50,166.62L273.00,166.61L273.50,166.59L274.00,166.58L274.50,166.56L275.00,166.55L275.50,166.53L276.00,166.52L276.50,166.50L277.00,166.49L277.50,166.47L278.00,166.46L278.50,166.44L279.00,166.43L279.50,166.41L280.00,166.40L280.50,166.44L281.00,166.48L281.50,166.52L282.00,166.56L282.50,166.60L283.00,166.64L283.50,166.68L284.00,166.72L284.50,166.76L285.00,166.80L285.50,166.84L286.00,166.88L286.50,166.92L287.00,166.96L287.50,167.00L288.00,167.04L288.50,167.08L289.00,167.12L289.50,167.16L290.00,167.20L290.50,167.20L291.00,167.20L291.50,167.20L292.00,167.20L292.50,167.20L293.00,167.20L293.50,167.20L294.00,167.20L294.50,167.20L295.00,167.20L295.50,167.20L296.00,167.20L296.50,167.20L297.00,167.20L297.50,167.20L298.00,167.20L298.50,167.20L299.00,167.20L299.50,167.20L300.00,167.20L300.50,167.30L301.00,167.40L301.50,167.50L302.00,167.60L302.50,167.70L303.00,167.80L303.50,167.90L304.00,168.00L304.50,168.62L305.00,169.25L305.50,169.88L306.00,170.50L306.50,170.93L307.00,171.35L307.50,171.77L308.00,172.20L308.50,171.95L309.00,171.70L309.50,171.45L310.00,171.20L310.50,170.95L311.00,170.70L311.50,170.45L312.00,170.20L312.50,170.09L313.00,169.97L313.50,169.86L314.00,169.75L314.50,169.64L315.00,169.53L315.50,169.41L316.00,169.30L316.50,169.19L317.00,169.07L317.50,168.96L318.00,168.85L318.50,168.74L319.00,168.62L319.50,168.51L320.00,168.40L320.50,168.39L321.00,168.38L321.50,168.37L322.00,168.36L322.50,168.35L323.00,168.34L323.50,168.33L324.00,168.32L324.50,168.31L325.00,168.30L325.50,168.29L326.00,168.28L326.50,168.27L327.00,168.26L327.50,168.25L328.00,168.24L328.50,168.23L329.00,168.22L329.50,168.21L330.00,168.20L330.50,168.18L331.00,168.16L331.50,168.14L332.00,168.12L332.50,168.10L333.00,168.08L333.50,168.06L334.00,168.04L334.50,168.02L335.00,168.00L335.50,167.98L336.00,167.96L336.50,167.94L337.00,167.92L337.50,167.90L338.00,167.88L338.50,167.86L339.00,167.84L339.50,167.82L340.00,167.80L340.50,167.76L341.00,167.72L341.50,167.68L342.00,167.64L342.50,167.60L343.00,167.56L343.50,167.52L344.00,167.48L344.50,167.44L345.00,167.40L345.50,167.36L346.00,167.32L346.50,167.28L347.00,167.24L347.50,167.20L348.00,167.16L348.50,167.12L349.00,167.08L349.50,167.04L350.00,167.00L350.50,166.97L351.00,166.94L351.50,166.91L352.00,166.88L352.50,166.85L353.00,166.82L353.50,166.79L354.00,166.76L354.50,166.73L355.00,166.70L355.50,166.67L356.00,166.64L356.50,166.61L357.00,166.58L357.50,166.55L358.00,166.52L358.50,166.49L359.00,166.46L359.50,166.43L360.00,166.40L360.50,166.40L361.00,166.40L361.50,166.40L362.00,166.40L362.50,166.40L363.00,166.40L363.50,166.40L364.00,166.40L364.50,166.40L365.00,166.40L365.50,166.40L366.00,166.40L366.50,166.40L367.00,166.40L367.50,166.40L368.00,166.40L368.50,166.40L369.00,166.40L369.50,166.40L370.00,166.40L370.50,166.37L371.00,166.34L371.50,166.31L372.00,166.28L372.50,166.25L373.00,166.22L373.50,166.19L374.00,166.16L374.50,166.13L375.00,166.10L375.50,166.07L376.00,166.04L376.50,166.01L377.00,165.98L377.50,165.95L378.00,165.92L378.50,165.89L379.00,165.86L379.50,165.83L380.00,165.80L380.50,165.89L381.00,165.98L381.50,166.07L382.00,166.16L382.50,166.25L383.00,166.34L383.50,166.43L384.00,166.52L384.50,166.61L385.00,166.70L385.50,167.27L386.00,167.85L386.50,168.43L387.00,169.00L387.50,169.92L388.00,170.83L388.50,171.75L389.00,172.67L389.50,173.58L390.00,174.50L390.50,174.12L391.00,173.73L391.50,173.35L392.00,172.97L392.50,172.58L393.00,172.20L393.50,171.73L394.00,171.27L394.50,170.80L395.00,170.33L395.50,169.87L396.00,169.40L396.50,169.20L397.00,169.00L397.50,168.80L398.00,168.60L398.50,168.40L399.00,168.20L399.50,168.00L400.00,167.80L400.50,167.75L401.00,167.69L401.50,167.64L402.00,167.58L402.50,167.53L403.00,167.47L403.50,167.41L404.00,167.36L404.50,167.31L405.00,167.25L405.50,167.19L406.00,167.14L406.50,167.09L407.00,167.03L407.50,166.97L408.00,166.92L408.50,166.86L409.00,166.81L409.50,166.75L410.00,166.70L410.50,166.71L411.00,166.73L411.50,166.75L412.00,166.76L412.50,166.77L413.00,166.79L413.50,166.81L414.00,166.82L414.50,166.83L415.00,166.85L415.50,166.87L416.00,166.88L416.50,166.89L417.00,166.91L417.50,166.93L418.00,166.94L418.50,166.95L419.00,166.97L419.50,166.99L420.00,167.00L420.50,167.00L421.00,167.00L421.50,167.00L422.00,167.00L422.50,167.00L423.00,167.00L423.50,167.00L424.00,167.00L424.50,167.00L425.00,167.00L425.50,167.00L426.00,167.00L426.50,167.00L427.00,167.00L427.50,167.00L428.00,167.00L428.50,167.00L429.00,167.00L429.50,167.00L430.00,167.00L430.50,167.01L431.00,167.03L431.50,167.05L432.00,167.06L432.50,167.07L433.00,167.09L433.50,167.11L434.00,167.12L434.50,167.13L435.00,167.15L435.50,167.17L436.00,167.18L436.50,167.19L437.00,167.21L437.50,167.23L438.00,167.24L438.50,167.25L439.00,167.27L439.50,167.29L440.00,167.30L440.50,167.26L441.00,167.21L441.50,167.17L442.00,167.12L442.50,167.08L443.00,167.03L443.50,166.99L444.00,166.94L444.50,166.90L445.00,166.85L445.50,166.81L446.00,166.76L446.50,166.72L447.00,166.67L447.50,166.62L448.00,166.58L448.50,166.53L449.00,166.49L449.50,166.44L450.00,166.40L450.50,166.38L451.00,166.36L451.50,166.34L452.00,166.32L452.50,166.30L453.00,166.28L453.50,166.26L454.00,166.24L454.50,166.22L455.00,166.20L455.50,166.18L456.00,166.16L456.50,166.14L457.00,166.12L457.50,166.10L458.00,166.08L458.50,166.06L459.00,166.04L459.50,166.02L460.00,166.00L460.50,166.02L461.00,166.04L461.50,166.06L462.00,166.08L462.50,166.10L463.00,166.12L463.50,166.14L464.00,166.16L464.50,166.18L465.00,166.20L465.50,166.22L466.00,166.24L466.50,166.26L467.00,166.28L467.50,166.30L468.00,166.32L468.50,166.34L469.00,166.36L469.50,166.38L470.00,166.40L470.50,166.55L471.00,166.70L471.50,166.85L472.00,167.00L472.50,167.15L473.00,167.30L473.50,167.45L474.00,167.60L474.50,167.75L475.00,167.90L475.50,167.81L476.00,167.72L476.50,167.63L477.00,167.54L477.50,167.45L478.00,167.36L478.50,167.27L479.00,167.18L479.50,167.09L480.00,167.00L480.50,166.96L481.00,166.92L481.50,166.88L482.00,166.84L482.50,166.80L483.00,166.76L483.50,166.72L484.00,166.68L484.50,166.64L485.00,166.60L485.50,166.56L486.00,166.52L486.50,166.48L487.00,166.44L487.50,166.40L488.00,166.36L488.50,166.32L489.00,166.28L489.50,166.24L490.00,166.20L490.50,166.16L491.00,166.13L491.50,166.09L492.00,166.06L492.50,166.02L493.00,165.99L493.50,165.95L494.00,165.92L494.50,165.88L495.00,165.85L495.50,165.81L496.00,165.78L496.50,165.75L497.00,165.71L497.50,165.68L498.00,165.64L498.50,165.60L499.00,165.57L499.50,165.53L500.00,165.50L500.50,165.53L501.00,165.56L501.50,165.59L502.00,165.62L502.50,165.65L503.00,165.68L503.50,165.71L504.00,165.74L504.50,165.77L505.00,165.80L505.50,166.17L506.00,166.53L506.50,166.90L507.00,167.27L507.50,167.63L508.00,168.00L508.50,168.20L509.00,168.40L509.50,168.60L510.00,168.80L510.50,168.83L511.00,168.86L511.50,168.89L512.00,168.92L512.50,168.95L513.00,168.98L513.50,169.01L514.00,169.04L514.50,169.07L515.00,169.10L515.50,169.13L516.00,169.16L516.50,169.19L517.00,169.22L517.50,169.25L518.00,169.28L518.50,169.31L519.00,169.34L519.50,169.37L520.00,169.40L520.50,169.37L521.00,169.34L521.50,169.31L522.00,169.28L522.50,169.25L523.00,169.22L523.50,169.19L524.00,169.16L524.50,169.13L525.00,169.10L525.50,169.07L526.00,169.04L526.50,169.01L527.00,168.98L527.50,168.95L528.00,168.92L528.50,168.89L529.00,168.86L529.50,168.83L530.00,168.80L530.50,168.76L531.00,168.72L531.50,168.68L532.00,168.64L532.50,168.60L533.00,168.56L533.50,168.52L534.00,168.48L534.50,168.44L535.00,168.40L535.50,168.36L536.00,168.32L536.50,168.28L537.00,168.24L537.50,168.20L538.00,168.16L538.50,168.12L539.00,168.08L539.50,168.04L540.00,168.00L540.50,168.00L541.00,168.00L541.50,168.00L542.00,168.00L542.50,168.00L543.00,168.00L543.50,168.00L544.00,168.00L544.50,168.00L545.00,168.00L545.50,168.00L546.00,168.00L546.50,168.00L547.00,168.00L547.50,168.00L548.00,168.00L548.50,168.00L549.00,168.00L549.50,168.00L550.00,168.00L550.50,168.00L551.00,168.00L551.50,168.00L552.00,168.00L552.50,168.00L553.00,168.00L553.50,168.00L554.00,168.00L554.50,168.00L555.00,173.00L555.50,186.25L556.00,198.00L556.50,200.25L557.00,202.50L557.50,202.33L558.00,202.17L558.50,202.00L559.00,196.00L559.50,192.87L560.00,190.58L560.50,189.54L561.00,188.50L561.50,184.75L562.00,182.00L562.50,180.60L563.00,179.93L563.50,179.27L564.00,177.80L564.50,175.80L565.00,173.80L565.50,173.06L566.00,173.15L566.50,173.25L567.00,173.35L567.50,173.44L568.00,173.40L568.50,173.15L569.00,172.90L569.50,172.65L570.00,172.40L570.50,172.15L571.00,172.11L571.50,172.39L572.00,172.67L572.50,172.94L573.00,172.11L573.50,171.00L574.00,169.89L574.50,169.01L575.00,169.05L575.50,169.10L576.00,169.14L576.50,169.18L577.00,169.75L577.50,170.67L578.00,171.58L578.50,172.50L579.00,172.29L579.50,172.07L580.00,171.86L580.50,171.64L581.00,171.43L581.50,171.21L582.00,171.00L582.50,170.99L583.00,170.97L583.50,170.96L584.00,170.95L584.50,170.94L585.00,170.93L585.50,170.91L586.00,170.90L586.50,170.89L587.00,170.88L587.50,170.86L588.00,170.85L588.50,170.84L589.00,170.83L589.50,170.81L590.00,170.80L590.50,170.75L591.00,170.70L591.50,170.65L592.00,170.60L592.50,170.55L593.00,170.50L593.50,170.45L594.00,170.40L594.50,170.35L595.00,170.30L595.50,170.25L596.00,170.20L596.50,170.15L597.00,170.10L597.50,170.05L598.00,170.00L598.50,169.95L599.00,169.90L599.50,169.85L600.00,169.80L600.50,169.75L601.00,169.70L601.50,169.65L602.00,169.60L602.50,169.55L603.00,169.50L603.50,169.45L604.00,169.40L604.50,169.35L605.00,169.30L605.50,169.25L606.00,169.20L606.50,169.15L607.00,169.10L607.50,169.05L608.00,169.00L608.50,168.95L609.00,168.90L609.50,168.85L610.00,168.80L610.50,168.79L611.00,168.78L611.50,168.77L612.00,168.76L612.50,168.75L613.00,168.74L613.50,168.73L614.00,168.72L614.50,168.71L615.00,168.70L615.50,168.69L616.00,168.68L616.50,168.67L617.00,168.66L617.50,168.65L618.00,168.64L618.50,168.63L619.00,168.62L619.50,168.61L620.00,168.60L620.50,168.57L621.00,168.54L621.50,168.51L622.00,168.48L622.50,168.45L623.00,168.42L623.50,168.39L624.00,168.36L624.50,168.33L625.00,168.30L625.50,168.27L626.00,168.24L626.50,168.21L627.00,168.18L627.50,168.15L628.00,168.12L628.50,168.09L629.00,168.06L629.50,168.03L630.00,168.00L630.50,168.00L631.00,168.01L631.50,168.01L632.00,168.02L632.50,168.03L633.00,168.03L633.50,168.03L634.00,168.04L634.50,168.04L635.00,168.05L635.50,168.06L636.00,168.06L636.50,168.06L637.00,168.07L637.50,168.07L638.00,168.08L638.50,168.09L639.00,168.09L639.50,168.09L640.00,168.10L640.50,168.09L641.00,168.09L641.50,168.09L642.00,168.08L642.50,168.07L643.00,168.07L643.50,168.06L644.00,168.06L644.50,168.06L645.00,168.05L645.50,168.04L646.00,168.04L646.50,168.03L647.00,168.03L647.50,168.03L648.00,168.02L648.50,168.01L649.00,168.01L649.50,168.00L650.00,168.00" fill="none" stroke="#000" stroke-width="2.2" stroke-linejoin="round"/>
<path d="M514.3,183.2 V222.3 H546.7" fill="none" stroke="#000" stroke-width="2.8"/>
<text x="505" y="205.3" font-size="22" text-anchor="end">20 nA</text>
<text x="503.3" y="243.6" font-size="22.2">1 min</text>
<line x1="86.5" y1="260" x2="86.5" y2="606.5" stroke="#000" stroke-width="3"/>
<line x1="78" y1="598.8" x2="95" y2="598.8" stroke="#000" stroke-width="3"/>
<text x="61" y="609.7" font-size="27.8" text-anchor="end">0</text>
<line x1="78" y1="531.3" x2="95" y2="531.3" stroke="#000" stroke-width="3"/>
<text x="61" y="542.2" font-size="27.8" text-anchor="end">5</text>
<line x1="78" y1="463.9" x2="95" y2="463.9" stroke="#000" stroke-width="3"/>
<text x="61" y="474.8" font-size="27.8" text-anchor="end">10</text>
<line x1="78" y1="396.4" x2="95" y2="396.4" stroke="#000" stroke-width="3"/>
<text x="61" y="407.3" font-size="27.8" text-anchor="end">15</text>
<line x1="78" y1="329.0" x2="95" y2="329.0" stroke="#000" stroke-width="3"/>
<text x="61" y="339.9" font-size="27.8" text-anchor="end">20</text>
<line x1="78" y1="261.5" x2="95" y2="261.5" stroke="#000" stroke-width="3"/>
<text x="61" y="272.4" font-size="27.8" text-anchor="end">25</text>
<line x1="78" y1="598.8" x2="609" y2="598.8" stroke="#000" stroke-width="3.2"/>
<line x1="160.9" y1="591" x2="160.9" y2="606.5" stroke="#000" stroke-width="3"/>
<line x1="235.4" y1="591" x2="235.4" y2="606.5" stroke="#000" stroke-width="3"/>
<line x1="309.8" y1="591" x2="309.8" y2="606.5" stroke="#000" stroke-width="3"/>
<line x1="384.2" y1="591" x2="384.2" y2="606.5" stroke="#000" stroke-width="3"/>
<line x1="458.7" y1="591" x2="458.7" y2="606.5" stroke="#000" stroke-width="3"/>
<line x1="533.1" y1="591" x2="533.1" y2="606.5" stroke="#000" stroke-width="3"/>
<line x1="607.5" y1="591" x2="607.5" y2="606.5" stroke="#000" stroke-width="3"/>
<rect x="108.5" y="578.4" width="30.0" height="20.4" fill="#929292" stroke="#000" stroke-width="3.0"/>
<path d="M123.5,571.0 V586.4 M115.0,571.0 H132.0 M115.0,586.4 H132.0" stroke="#000" stroke-width="3" fill="none"/>
<text x="122.4" y="558.0" font-size="22" text-anchor="middle">b</text>
<rect x="183.0" y="353.9" width="30.0" height="244.9" fill="#929292" stroke="#000" stroke-width="3.0"/>
<path d="M198.0,323.7 V383.6 M189.5,323.7 H206.5 M189.5,383.6 H206.5" stroke="#000" stroke-width="3" fill="none"/>
<text x="195.5" y="308.9" font-size="22" text-anchor="middle">a</text>
<rect x="257.5" y="523.9" width="30.0" height="74.9" fill="#929292" stroke="#000" stroke-width="3.0"/>
<path d="M272.5,512.9 V533.7 M264.0,512.9 H281.0 M264.0,533.7 H281.0" stroke="#000" stroke-width="3" fill="none"/>
<text x="273.2" y="497.0" font-size="22" text-anchor="middle">ab</text>
<rect x="332.0" y="491.0" width="30.0" height="107.8" fill="#929292" stroke="#000" stroke-width="3.0"/>
<path d="M347.0,469.1 V513.1 M338.5,469.1 H355.5 M338.5,513.1 H355.5" stroke="#000" stroke-width="3" fill="none"/>
<text x="344.9" y="447.6" font-size="22" text-anchor="middle">ab</text>
<rect x="406.5" y="542.4" width="30.0" height="56.4" fill="#929292" stroke="#000" stroke-width="3.0"/>
<path d="M421.5,532.4 V552.5 M413.0,532.4 H430.0 M413.0,552.5 H430.0" stroke="#000" stroke-width="3" fill="none"/>
<text x="419.0" y="519.0" font-size="22" text-anchor="middle">b</text>
<rect x="481.0" y="558.5" width="30.0" height="40.3" fill="#929292" stroke="#000" stroke-width="3.0"/>
<path d="M496.0,546.6 V570.5 M487.5,546.6 H504.5 M487.5,570.5 H504.5" stroke="#000" stroke-width="3" fill="none"/>
<text x="493.0" y="532.7" font-size="22" text-anchor="middle">b</text>
<rect x="555.4" y="541.2" width="30.0" height="57.6" fill="#929292" stroke="#000" stroke-width="3.0"/>
<path d="M570.4,520.4 V562.5 M561.9,520.4 H578.9 M561.9,562.5 H578.9" stroke="#000" stroke-width="3" fill="none"/>
<text x="567.1" y="505.1" font-size="22" text-anchor="middle">b</text>
<rect x="126.4" y="254.9" width="12.6" height="12.6" fill="#929292" stroke="#000" stroke-width="3"/>
<text x="144.5" y="272.4" font-size="24.8">AsegOR3 (N=10)</text>
<text transform="translate(26.3,456.3) rotate(-90)" font-size="27.5" text-anchor="middle">Current (nA)</text>
<text transform="translate(128.5,634.9) rotate(-35)" font-size="24.7" text-anchor="end" class="lb">10:OAc</text>
<text transform="translate(203.0,634.9) rotate(-35)" font-size="24.7" text-anchor="end" class="lb">Z7-12:OAc</text>
<text transform="translate(277.5,634.9) rotate(-35)" font-size="24.7" text-anchor="end" class="lb">Z5-10:OAc</text>
<text transform="translate(352.0,634.9) rotate(-35)" font-size="24.7" text-anchor="end" class="lb">Z9-14:OAc</text>
<text transform="translate(426.5,634.9) rotate(-35)" font-size="24.7" text-anchor="end" class="lb">Z5-12:OAc</text>
<text transform="translate(501.0,634.9) rotate(-35)" font-size="24.7" text-anchor="end" class="lb">Z5-10:OH</text>
<text transform="translate(575.4,634.9) rotate(-35)" font-size="24.7" text-anchor="end" class="lb">Z8-12:OAc</text>
<text x="246" y="745.8" font-size="27.3">Ligand (100 µM)</text>
</svg>
</body></html>
